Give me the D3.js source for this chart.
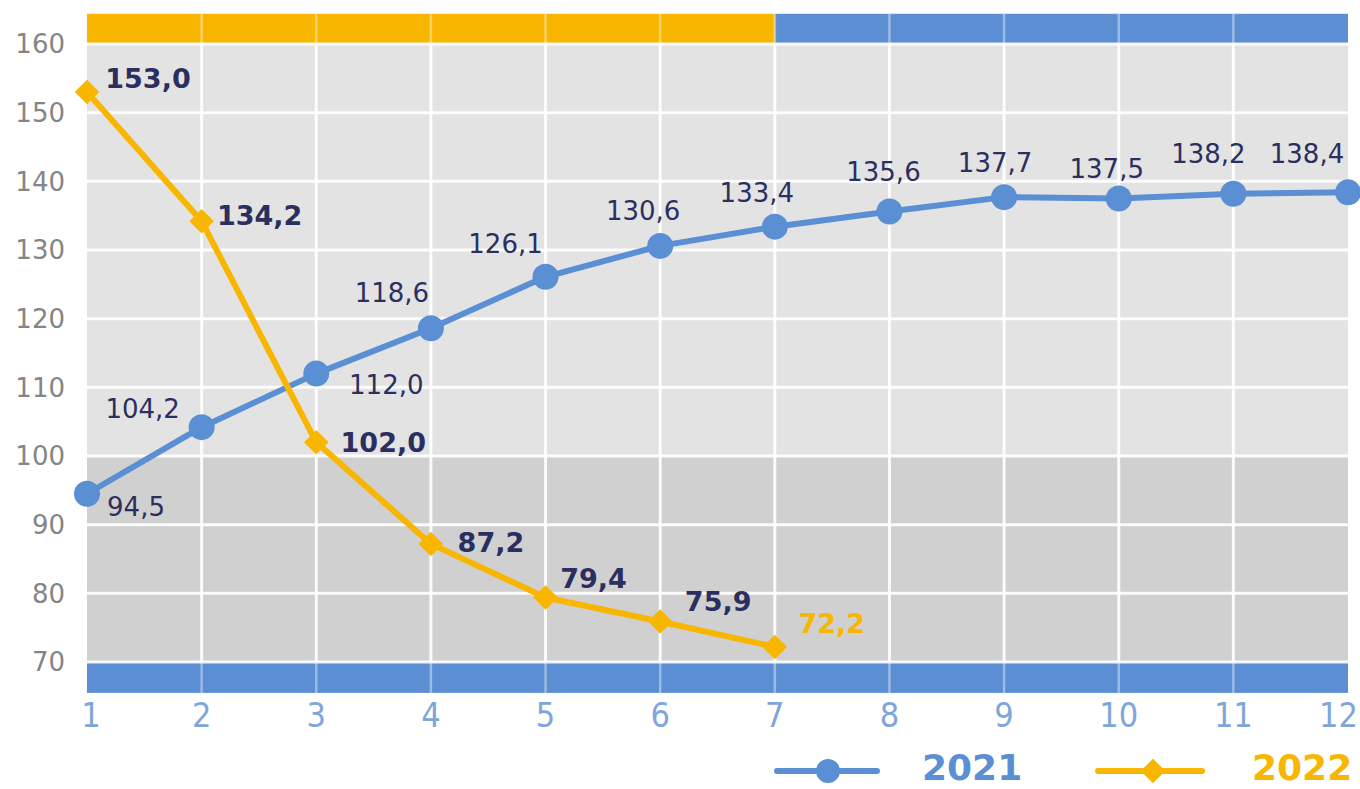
<!DOCTYPE html>
<html>
<head>
<meta charset="utf-8">
<script src="https://cdn.jsdelivr.net/npm/d3@7"></script>
<style>
  html, body { margin: 0; padding: 0; background: #ffffff; }
  svg { display: block; }
</style>
</head>
<body>
<svg id="chart" width="1360" height="789"></svg>
<script>
// ---- data ----
const months = [1, 2, 3, 4, 5, 6, 7, 8, 9, 10, 11, 12];
const monthLabels = ["1", "2", "3", "4", "5", "6", "7", "8", "9", "10", "11", "12"];
const values2021 = [94.5, 104.2, 112.0, 118.6, 126.1, 130.6, 133.4, 135.6, 137.7, 137.5, 138.2, 138.4];
const values2022 = [153.0, 134.2, 102.0, 87.2, 79.4, 75.9, 72.2];
const yTicks = [70, 80, 90, 100, 110, 120, 130, 140, 150, 160];
const seriesNames = ["2021", "2022"];

// ---- label placement (layout only) ----
const off2021 = [[49, 22], [-59, -9], [70, 20], [-39, -26], [-40, -24], [-17, -26], [-18, -25], [-6, -31], [-9, -25], [-12, -21], [-25, -31], [-41, -29]];
const off2022 = [[61, -4], [58, 4], [67, 10], [60, 8], [48, -9], [58, -10], [57, -14]];

const C = {
  blue: "#5b8fd3",
  yellow: "#f8b600",
  navy: "#2b2f5f",
  bgHi: "#e3e3e3",
  bgLo: "#d0d0d0",
  barBlue: "#5b8ed2",
  axisGray: "#858585",
  xLabel: "#7fa6da"
};

const svg = d3.select("#chart");
const x = d3.scaleLinear().domain([1, 12]).range([87, 1348]);
const y = d3.scaleLinear().domain([70, 160]).range([662, 44]);
const fmt = v => d3.format(".1f")(v).replace(".", ",");

// backgrounds
svg.append("rect").attr("x", x(1)).attr("width", x(12) - x(1))
  .attr("y", y(160)).attr("height", y(100) - y(160)).attr("fill", C.bgHi);
svg.append("rect").attr("x", x(1)).attr("width", x(12) - x(1))
  .attr("y", y(100)).attr("height", y(70) - y(100)).attr("fill", C.bgLo);

// top bar: yellow over months with 2022 data, blue after
const lastMonth2022 = months[values2022.length - 1];
svg.append("rect").attr("x", x(1)).attr("width", x(lastMonth2022) - x(1))
  .attr("y", y(164.4)).attr("height", y(160) - y(164.4)).attr("fill", C.yellow);
svg.append("rect").attr("x", x(lastMonth2022)).attr("width", x(12) - x(lastMonth2022))
  .attr("y", y(164.4)).attr("height", y(160) - y(164.4)).attr("fill", C.barBlue);
// bottom bar
svg.append("rect").attr("x", x(1)).attr("width", x(12) - x(1))
  .attr("y", y(70)).attr("height", y(65.5) - y(70)).attr("fill", C.barBlue);

// grid lines
svg.append("g").selectAll("line").data(yTicks).join("line")
  .attr("x1", x(1)).attr("x2", x(12))
  .attr("y1", d => y(d)).attr("y2", d => y(d))
  .attr("stroke", "#ffffff").attr("stroke-width", 3).attr("stroke-opacity", 0.9);
svg.append("g").selectAll("line").data(months.slice(1, 11)).join("line")
  .attr("x1", d => x(d)).attr("x2", d => x(d))
  .attr("y1", y(160)).attr("y2", y(70))
  .attr("stroke", "#ffffff").attr("stroke-width", 3).attr("stroke-opacity", 0.9);
// lighter dividers across the bars
svg.append("g").selectAll("line").data(months.slice(1, 11)).join("line")
  .attr("x1", d => x(d)).attr("x2", d => x(d))
  .attr("y1", y(164.4)).attr("y2", y(160))
  .attr("stroke", "#ffffff").attr("stroke-width", 2.5).attr("stroke-opacity", 0.4);
svg.append("g").selectAll("line").data(months.slice(1, 11)).join("line")
  .attr("x1", d => x(d)).attr("x2", d => x(d))
  .attr("y1", y(70)).attr("y2", y(65.5))
  .attr("stroke", "#ffffff").attr("stroke-width", 2.5).attr("stroke-opacity", 0.4);

// y axis labels
svg.append("g").selectAll("text").data(yTicks).join("text")
  .attr("x", 65).attr("y", d => y(d)).attr("dy", "0.36em")
  .attr("text-anchor", "end")
  .attr("font-family", "'DejaVu Sans', sans-serif").attr("font-size", 26)
  .attr("fill", C.axisGray)
  .text(d => d);

// x axis labels
const lastIdx = months.length - 1;
svg.append("g").selectAll("text").data(months).join("text")
  .attr("x", (d, i) => i === 0 ? x(d) + 4 : (i === lastIdx ? 1358 : x(d)))
  .attr("y", 727)
  .attr("text-anchor", (d, i) => i === lastIdx ? "end" : "middle")
  .attr("font-family", "'Liberation Sans Narrow', 'DejaVu Sans Condensed', sans-serif")
  .attr("font-size", 34)
  .attr("fill", C.xLabel)
  .text((d, i) => monthLabels[i]);

// lines
const line = d3.line().x((d, i) => x(months[i])).y(d => y(d));
svg.append("path").datum(values2021).attr("d", line)
  .attr("fill", "none").attr("stroke", C.blue).attr("stroke-width", 6).attr("stroke-linejoin", "round");
svg.append("path").datum(values2022).attr("d", line)
  .attr("fill", "none").attr("stroke", C.yellow).attr("stroke-width", 6).attr("stroke-linejoin", "round");

// markers
svg.append("g").selectAll("circle").data(values2021).join("circle")
  .attr("cx", (d, i) => x(months[i])).attr("cy", d => y(d)).attr("r", 13)
  .attr("fill", C.blue);
const diamond = d3.symbol().type(d3.symbolSquare).size(300);
svg.append("g").selectAll("path").data(values2022).join("path")
  .attr("d", diamond)
  .attr("transform", (d, i) => `translate(${x(months[i])},${y(d)}) rotate(45)`)
  .attr("fill", C.yellow);

// value labels 2021
svg.append("g").selectAll("text").data(values2021).join("text")
  .attr("x", (d, i) => x(months[i]) + off2021[i][0])
  .attr("y", (d, i) => y(d) + off2021[i][1])
  .attr("text-anchor", "middle")
  .attr("font-family", "'DejaVu Sans', sans-serif").attr("font-size", 26)
  .attr("fill", C.navy)
  .text(d => fmt(d));

// value labels 2022
svg.append("g").selectAll("text").data(values2022).join("text")
  .attr("x", (d, i) => x(months[i]) + off2022[i][0])
  .attr("y", (d, i) => y(d) + off2022[i][1])
  .attr("text-anchor", "middle")
  .attr("font-family", "'DejaVu Sans', sans-serif").attr("font-size", 27).attr("font-weight", "bold")
  .attr("fill", (d, i) => i === values2022.length - 1 ? C.yellow : C.navy)
  .text(d => fmt(d));

// legend
const legend = svg.append("g");
const legItems = [
  { name: seriesNames[0], color: C.blue, x0: 777, x1: 877, mx: 828, ly: 771, tx: 922, shape: "circle" },
  { name: seriesNames[1], color: C.yellow, x0: 1098, x1: 1202, mx: 1153, ly: 771, tx: 1252, shape: "diamond" }
];
legItems.forEach(it => {
  legend.append("line").attr("x1", it.x0).attr("x2", it.x1).attr("y1", it.ly).attr("y2", it.ly)
    .attr("stroke", it.color).attr("stroke-width", 6).attr("stroke-linecap", "round");
  if (it.shape === "circle") {
    legend.append("circle").attr("cx", it.mx).attr("cy", it.ly).attr("r", 12).attr("fill", it.color);
  } else {
    legend.append("path").attr("d", diamond)
      .attr("transform", `translate(${it.mx},${it.ly}) rotate(45)`).attr("fill", it.color);
  }
  legend.append("text").attr("x", it.tx).attr("y", 780)
    .attr("font-family", "'DejaVu Sans', sans-serif").attr("font-size", 36).attr("font-weight", "bold")
    .attr("fill", it.color).text(it.name);
});
</script>
</body>
</html>
